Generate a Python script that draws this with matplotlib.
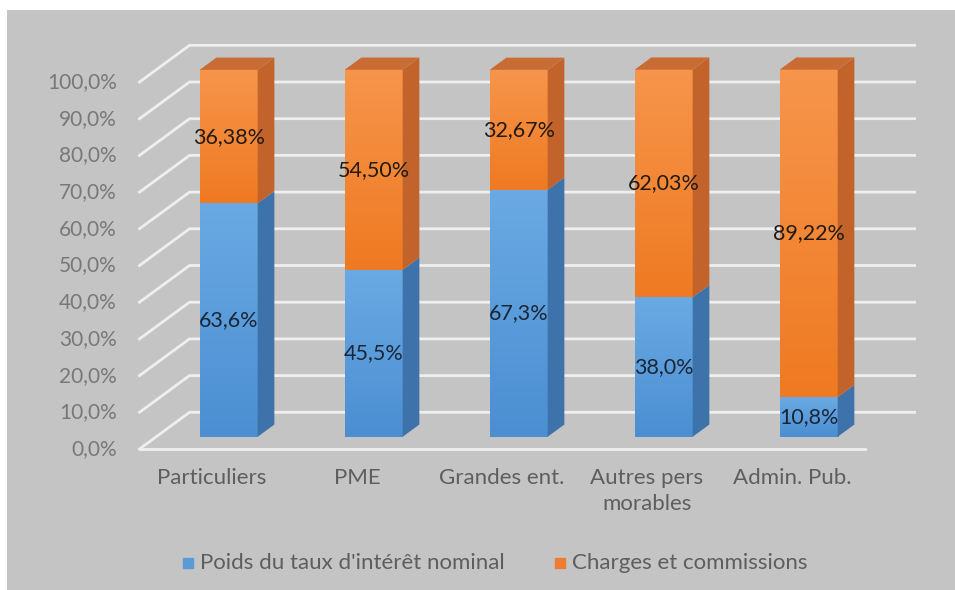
import numpy as np
import matplotlib.pyplot as plt
from matplotlib.patches import Polygon, Rectangle

plt.rcParams['font.family'] = ['Lato', 'DejaVu Sans']

categories = ["Particuliers", "PME", "Grandes ent.", "Autres pers\nmorables", "Admin. Pub."]
taux = [63.6, 45.5, 67.3, 38.0, 10.8]
charges = [36.38, 54.50, 32.67, 62.03, 89.22]
series_names = ["Poids du taux d'intérêt nominal", "Charges et commissions"]
yticks = np.arange(0, 101, 10)

# fake 3d: a depth d in [0, 1] shifts points right and up
DX = 0.345
DY = 10.0
W = 0.40
D0, D1 = 1 / 3, 2 / 3

def proj(x, y, d):
    return (x + DX * d, y + DY * d)

def fmt(v, nd):
    return ("%." + str(nd) + "f%%") % v

fig = plt.figure(figsize=(9.55, 5.9), dpi=100)
ax = fig.add_axes([0, 0, 1, 1])
ax.set_xlim(-212 / 145, 743 / 145)
ax.set_ylim((449 - 590) / 3.67, 449 / 3.67)
ax.axis('off')

ax.add_patch(Rectangle((7 / 955, 0), 1, 1 - 10 / 590, transform=ax.transAxes,
                       facecolor='#c4c4c4', edgecolor='none', zorder=0))

grid_c = '#efefef'
x0, x1 = -0.5, len(categories) - 0.5
for t in yticks:
    a = proj(x0, t, 0)
    b = proj(x0, t, 1)
    c = proj(x1, t, 1)
    ax.plot([a[0], b[0], c[0]], [a[1], b[1], c[1]], color=grid_c, lw=2, zorder=1,
            solid_joinstyle='miter')
    ax.text(-0.655, t, fmt(t, 1).replace('.', ','), ha='right', va='center',
            fontsize=15, color='#787878', zorder=5)
# floor front edge
a = proj(x0, 0, 0)
b = proj(x1, 0, 0)
ax.plot([a[0], b[0]], [a[1], b[1]], color=grid_c, lw=2, zorder=1)


def front(xl, xr, y0, y1, d, c_top, c_bot):
    (l, b0) = proj(xl, y0, d)
    (r, t0) = proj(xr, y1, d)
    grad = np.linspace(0, 1, 64)[:, None, None]
    ct = np.array(plt.matplotlib.colors.to_rgb(c_top))
    cb = np.array(plt.matplotlib.colors.to_rgb(c_bot))
    img = ct * (1 - grad) + cb * grad
    ax.imshow(img, extent=(l, r, b0, t0), origin='upper', aspect='auto',
              interpolation='bilinear', zorder=3)


def face(pts, color):
    ax.add_patch(Polygon([proj(*p) for p in pts], closed=True, facecolor=color,
                         edgecolor='none', zorder=3))


for i in range(len(categories)):
    xl, xr = i - W / 2, i + W / 2
    segs = [(0, taux[i], '#6aa9e3', '#4b8fd2', '#3d72aa'),
            (taux[i], taux[i] + charges[i], '#f6954b', '#ef7a22', '#c2632b')]
    for (y0, y1, ct, cb, cs) in segs:
        front(xl, xr, y0, y1, D0, ct, cb)
        face([(xr, y0, D0), (xr, y1, D0), (xr, y1, D1), (xr, y0, D1)], cs)
    top = taux[i] + charges[i]
    face([(xl, top, D0), (xr, top, D0), (xr, top, D1), (xl, top, D1)], '#c96c33')

    cx = i + DX * D0
    ax.text(cx, taux[i] / 2 + DY * D0, fmt(taux[i], 1).replace('.', ','),
            ha='center', va='center', fontsize=15.5, color='#1a2636', zorder=6)
    ax.text(cx, taux[i] + charges[i] / 2 + DY * D0, fmt(charges[i], 2).replace('.', ','),
            ha='center', va='center', fontsize=15.5, color='#221a14', zorder=6)
    ax.text(i, (449 - 468) / 3.67, categories[i], ha='center', va='top',
            fontsize=16, color='#5e5e5e', linespacing=1.4, zorder=5)

# legend
leg_y = (449 - 563) / 3.67
leg = [((188 - 212) / 145, '#5b9bd5', series_names[0]),
       ((560 - 212) / 145, '#ed7d31', series_names[1])]
for (lx, col, name) in leg:
    ax.plot([lx], [leg_y], marker='s', markersize=7, color=col, zorder=5)
    ax.text(lx + 12 / 145, leg_y, name, ha='left', va='center', fontsize=16,
            color='#5e5e5e', zorder=5)

fig.savefig('out.png', dpi=100)
